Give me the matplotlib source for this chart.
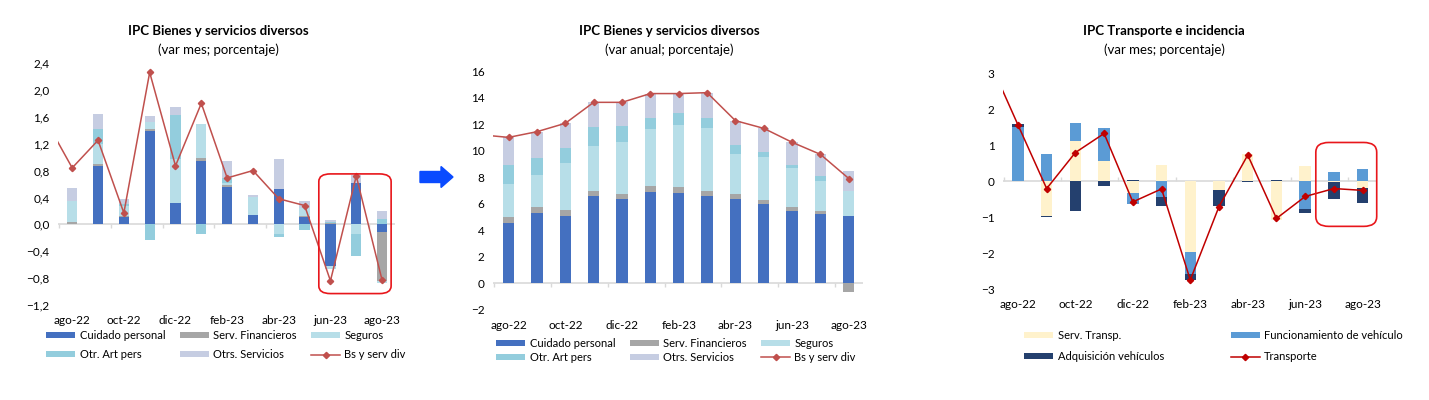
import numpy as np
import matplotlib
matplotlib.use("Agg")
import matplotlib.pyplot as plt
from matplotlib.patches import FancyBboxPatch, FancyArrow

plt.rcParams['font.family'] = ['Lato', 'DejaVu Sans']

# ---------------- data ----------------
months = ["jul-22", "ago-22", "sep-22", "oct-22", "nov-22", "dic-22", "ene-23", "feb-23",
          "mar-23", "abr-23", "may-23", "jun-23", "jul-23", "ago-23"]
tick_labels = ["ago-22", "oct-22", "dic-22", "feb-23", "abr-23", "jun-23", "ago-23"]

# Chart 1: var mes (ago-22 .. ago-23)
m_cuidado = [0.01, 0.87, 0.11, 1.39, 0.31, 0.94, 0.555, 0.14, 0.53, 0.11, -0.62, 0.61, -0.11]
m_financ = [0.02, 0.025, 0.02, 0.03, 0.0, 0.05, 0.025, 0.0, 0.0, 0.02, 0.02, 0.0, -0.74]
m_seguros = [0.32, 0.30, 0.15, 0.10, 0.66, 0.50, 0.04, 0.26, -0.14, 0.12, -0.05, -0.15, -0.03]
m_otrart = [0.0, 0.22, 0.02, -0.23, 0.66, -0.14, 0.07, 0.0, -0.05, -0.09, 0.02, -0.32, 0.075]
m_otrserv = [0.19, 0.22, 0.08, 0.09, 0.11, 0.0, 0.25, 0.04, 0.445, 0.09, 0.02, 0.12, 0.13]
m_total = [1.53, 0.84, 1.25, 0.17, 2.26, 0.87, 1.80, 0.69, 0.80, 0.38, 0.28, -0.84, 0.72, -0.83]  # incl. jul-22

# Chart 2: var anual
a_cuidado = [4.52, 5.28, 5.08, 6.56, 6.36, 6.88, 6.81, 6.58, 6.38, 5.98, 5.48, 5.23, 5.05]
a_financ = [0.45, 0.45, 0.45, 0.37, 0.37, 0.43, 0.43, 0.38, 0.35, 0.30, 0.30, 0.25, -0.68]
a_seguros = [2.49, 2.44, 3.57, 3.42, 3.95, 4.32, 4.69, 4.72, 3.04, 3.24, 2.89, 2.26, 1.91]
a_otrart = [1.46, 1.28, 1.08, 1.41, 1.20, 0.83, 0.91, 0.78, 0.66, 0.40, 0.25, 0.35, 0.02]
a_otrserv = [2.08, 1.98, 1.88, 1.88, 1.76, 1.84, 1.46, 1.91, 1.83, 1.76, 1.71, 1.63, 1.49]
a_total = [11.2, 11.0, 11.43, 12.06, 13.64, 13.64, 14.3, 14.3, 14.37, 12.26, 11.68, 10.63, 9.72, 7.9]

# Chart 3: transporte var mes
t_serv = [0.0, -0.97, 1.11, 0.56, -0.34, 0.44, -1.97, -0.25, 0.74, -1.09, 0.41, -0.04, -0.20]
t_func = [1.50, 0.74, 0.49, 0.91, -0.29, -0.44, -0.60, 0.0, 0.02, 0.01, -0.79, 0.24, 0.34]
t_adq = [0.09, -0.02, -0.83, -0.15, 0.03, -0.25, -0.19, -0.44, -0.03, 0.01, -0.11, -0.46, -0.42]
t_total = [3.35, 1.56, -0.21, 0.79, 1.32, -0.58, -0.22, -2.75, -0.71, 0.72, -1.04, -0.43, -0.21, -0.26]

# ---------------- styles ----------------
C_CUID = "#4470C0"
C_FIN = "#A6A6A6"
C_SEG = "#B7DEE8"
C_OTA = "#93CDDD"
C_OTS = "#C6CDE2"
C_LINE1 = "#C0504D"
C_SERV = "#FFF2CC"
C_FUNC = "#5B9BD5"
C_ADQ = "#24406E"
C_LINE3 = "#C00000"

W, H = 1429, 400
fig = plt.figure(figsize=(W / 100, H / 100), dpi=100)


def axes_px(x0, x1, ytop, ybot):
    return fig.add_axes([x0 / W, 1 - ybot / H, (x1 - x0) / W, (ybot - ytop) / H])


def stacked(ax, series, colors, labels, width=0.4):
    x = np.arange(len(series[0]))
    pos = np.zeros(len(x))
    neg = np.zeros(len(x))
    handles = []
    for vals, c, lab in zip(series, colors, labels):
        v = np.asarray(vals, dtype=float)
        bottom = np.where(v >= 0, pos, neg)
        b = ax.bar(x, v, width, bottom=bottom, color=c, label=lab, zorder=2, linewidth=0)
        handles.append(b)
        pos = pos + np.where(v >= 0, v, 0)
        neg = neg + np.where(v < 0, v, 0)
    return handles


def style_axes(ax, ylim, yticks, yfmt, xlim):
    ax.set_xlim(*xlim)
    ax.set_ylim(*ylim)
    for s in ax.spines.values():
        s.set_visible(False)
    ax.set_yticks(yticks)
    ax.set_yticklabels([yfmt(v) for v in yticks], fontsize=8.5)
    ax.tick_params(axis='y', length=0, pad=6)
    ax.set_xticks(np.arange(0, 13, 2))
    ax.set_xticklabels(tick_labels, fontsize=8.5)
    ax.tick_params(axis='x', length=0, pad=7)
    ax.axhline(0, color="#D9D9D9", lw=1.2, zorder=1)
    frac = (0 - ylim[0]) / (ylim[1] - ylim[0])
    sec = ax.secondary_xaxis(frac)
    sec.set_xticks(np.arange(-0.5, 13, 2))
    sec.set_xticklabels([])
    sec.tick_params(axis='x', length=3, color="#D9D9D9", width=1)
    for s in sec.spines.values():
        s.set_visible(False)


def comma(v):
    return f"{v:.1f}".replace(".", ",").replace("-", "\u2212")


def integer(v):
    return f"{v:.0f}".replace("-", "\u2212")


xpos_line = np.arange(-1, 13)
LEG = dict(frameon=False, fontsize=8, handlelength=2.6, handleheight=0.45,
           handletextpad=0.4, borderaxespad=0)

# ---------- chart 1 ----------
ax1 = axes_px(58, 395, 63, 305)
h1 = stacked(ax1, [m_cuidado, m_financ, m_seguros, m_otrart, m_otrserv],
             [C_CUID, C_FIN, C_SEG, C_OTA, C_OTS],
             ["Cuidado personal", "Serv. Financieros", "Seguros", "Otr. Art pers", "Otrs. Servicios"])
l1, = ax1.plot(xpos_line, m_total, color=C_LINE1, lw=1.1, marker='D', ms=3.2, zorder=3,
               label="Bs y serv div")
style_axes(ax1, (-1.2, 2.4), np.arange(-1.2, 2.41, 0.4), comma, (-0.55, 12.5))
ax1.add_patch(FancyBboxPatch((9.55, -1.03), 2.8, 1.78, boxstyle="round,pad=0,rounding_size=0.45",
                             fill=False, ec="#E8161B", lw=1.2, zorder=4,
                             mutation_aspect=0.25))
hs = [h1[0], h1[3], h1[1], h1[4], h1[2], l1]
ax1.legend(hs, [h.get_label() for h in hs], ncol=3, loc='upper left',
           bbox_to_anchor=(-16 / 337, -0.085), columnspacing=1.3, labelspacing=0.75, **LEG)

fig.text(218 / W, 1 - 31 / H, "IPC Bienes y servicios diversos", ha='center', va='center',
         fontsize=9.5, fontweight='bold')
fig.text(218 / W, 1 - 50 / H, "(var mes; porcentaje)", ha='center', va='center', fontsize=9.5)

# ---------- chart 2 ----------
ax2 = axes_px(493, 863, 71, 310)
h2 = stacked(ax2, [a_cuidado, a_financ, a_seguros, a_otrart, a_otrserv],
             [C_CUID, C_FIN, C_SEG, C_OTA, C_OTS],
             ["Cuidado personal", "Serv. Financieros", "Seguros", "Otr. Art pers", "Otrs. Servicios"])
l2, = ax2.plot(xpos_line, a_total, color=C_LINE1, lw=1.1, marker='D', ms=3.2, zorder=3,
               label="Bs y serv div")
style_axes(ax2, (-2, 16), np.arange(-2, 16.1, 2), integer, (-0.55, 12.5))
hs = [h2[0], h2[3], h2[1], h2[4], h2[2], l2]
ax2.legend(hs, [h.get_label() for h in hs], ncol=3, loc='upper left',
           bbox_to_anchor=(-1 / 370, -0.098), columnspacing=1.3, labelspacing=0.25, **LEG)
fig.text(669 / W, 1 - 31 / H, "IPC Bienes y servicios diversos", ha='center', va='center',
         fontsize=9.5, fontweight='bold')
fig.text(669 / W, 1 - 50 / H, "(var anual; porcentaje)", ha='center', va='center', fontsize=9.5)

# ---------- chart 3 ----------
ax3 = axes_px(1003, 1377, 73, 289)
h3 = stacked(ax3, [t_serv, t_func, t_adq], [C_SERV, C_FUNC, C_ADQ],
             ["Serv. Transp.", "Funcionamiento de vehículo", "Adquisición vehículos"])
l3, = ax3.plot(xpos_line, t_total, color=C_LINE3, lw=1.1, marker='D', ms=3.2, zorder=3,
               label="Transporte")
style_axes(ax3, (-3, 3), np.arange(-3, 3.1, 1), integer, (-0.52, 12.5))
ax3.add_patch(FancyBboxPatch((10.37, -1.26), 2.12, 2.33, boxstyle="round,pad=0,rounding_size=0.45",
                             fill=False, ec="#E8161B", lw=1.2, zorder=4,
                             mutation_aspect=0.6, clip_on=False))
hs = [h3[0], h3[2], h3[1], l3]
ax3.legend(hs, [h.get_label() for h in hs], ncol=2, loc='upper left',
           bbox_to_anchor=(17 / 374, -0.17), columnspacing=6.0, labelspacing=0.9, **LEG)
fig.text(1164 / W, 1 - 31 / H, "IPC Transporte e incidencia", ha='center', va='center',
         fontsize=9.5, fontweight='bold')
fig.text(1164 / W, 1 - 50 / H, "(var mes; porcentaje)", ha='center', va='center', fontsize=9.5)

# ---------- arrow ----------
fig.patches.append(FancyArrow(4.20, (H - 177) / 100, 0.21, 0, width=0.11, head_width=0.21,
                              head_length=0.12, length_includes_head=False,
                              color="#0A4BFF", transform=fig.dpi_scale_trans, figure=fig))

fig.savefig("out.png", dpi=100, facecolor="white")
